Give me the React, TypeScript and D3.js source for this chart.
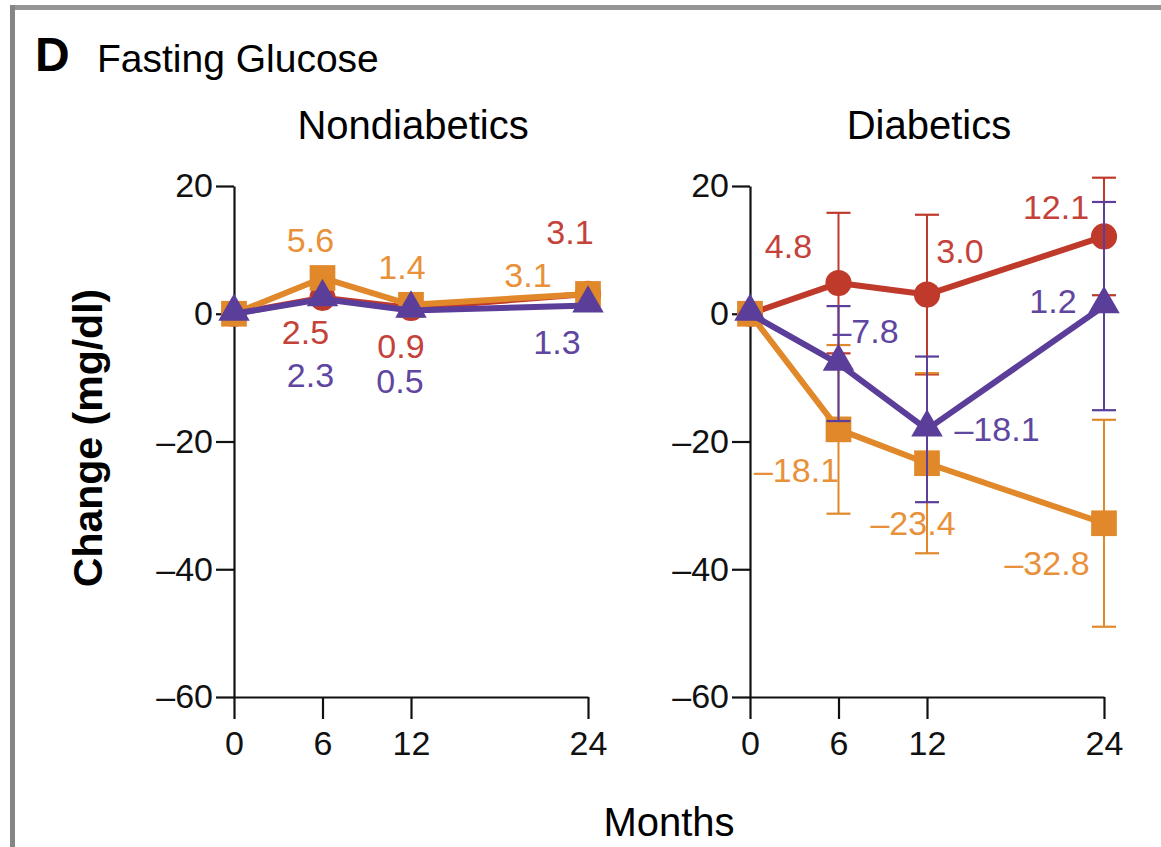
import React, { useEffect, useRef } from 'react'
import * as d3 from 'd3'

// months on the x axis
const months = [0, 6, 12, 24]
const yTicks = [20, 0, -20, -40, -60]

// Nondiabetics: change in fasting glucose (mg/dl)
const nonLowFat = [0, 2.5, 0.9, 3.1]
const nonMediterranean = [0, 5.6, 1.4, 3.1]
const nonLowCarb = [0, 2.3, 0.5, 1.3]

// Diabetics
const diaLowFat = [0, 4.8, 3.0, 12.1]
const diaMediterranean = [0, -18.1, -23.4, -32.8]
const diaLowCarb = [0, -7.8, -18.1, 1.2]

// Diabetics error bars (half width); null = none
const diaLowFatErr = [null, 11.0, 12.5, 9.2]
const diaMediterraneanErr = [null, 13.2, 14.1, 16.2]
const diaLowCarbErr = [null, 9.0, 11.4, 16.3]

const ORANGE = '#e0882a'
const RED = '#bf3a2b'
const PURPLE = '#5b3e99'
const ORANGE_TXT = '#e8913a'
const RED_TXT = '#c4423a'
const PURPLE_TXT = '#5f46a0'

const FONT = "'Liberation Sans', Arial, sans-serif"

type Off = [number, number]

interface Series {
  values: number[]
  errs?: (number | null)[]
  color: string
  textColor: string
  shape: 'circle' | 'square' | 'triangle'
  labelOff: Off[] // label centre relative to point, for months 6,12,24
}

function fmt(v: number) {
  const s = Math.abs(v).toFixed(1)
  return v < 0 ? '\u2013' + s : s
}

function App() {
  const ref = useRef<SVGSVGElement>(null)

  useEffect(() => {
    const svg = d3.select(ref.current)
    svg.selectAll('*').remove()

    // frame
    svg.append('rect').attr('x', 10).attr('y', 5).attr('width', 1151).attr('height', 5).attr('fill', '#959595')
    svg.append('rect').attr('x', 10).attr('y', 5).attr('width', 5).attr('height', 842).attr('fill', '#858585')

    svg.append('text').attr('x', 35).attr('y', 71).attr('font-family', FONT)
      .attr('font-weight', 'bold').attr('font-size', 48).text('D')
    svg.append('text').attr('x', 97).attr('y', 72).attr('font-family', FONT)
      .attr('font-size', 39).text('Fasting Glucose')

    const y = d3.scaleLinear().domain([-60, 20]).range([697, 186])

    svg.append('text')
      .attr('transform', 'translate(102,438) rotate(-90)')
      .attr('text-anchor', 'middle').attr('font-family', FONT)
      .attr('font-weight', 'bold').attr('font-size', 41).text('Change (mg/dl)')

    svg.append('text').attr('x', 669).attr('y', 836).attr('text-anchor', 'middle')
      .attr('font-family', FONT).attr('font-size', 40).text('Months')

    const panels: { title: string; x0: number; series: Series[] }[] = [
      {
        title: 'Nondiabetics',
        x0: 234,
        series: [
          { values: nonLowFat, color: RED, textColor: RED_TXT, shape: 'circle',
            labelOff: [[-17, 34], [-10, 38], [-18, -62]] },
          { values: nonMediterranean, color: ORANGE, textColor: ORANGE_TXT, shape: 'square',
            labelOff: [[-12, -38], [-9, -38], [-60, -19]] },
          { values: nonLowCarb, color: PURPLE, textColor: PURPLE_TXT, shape: 'triangle',
            labelOff: [[-12, 76], [-11, 70], [-31, 37]] },
        ],
      },
      {
        title: 'Diabetics',
        x0: 750,
        series: [
          { values: diaLowFat, errs: diaLowFatErr, color: RED, textColor: RED_TXT, shape: 'circle',
            labelOff: [[-50, -37], [33, -44], [-48, -29]] },
          { values: diaMediterranean, errs: diaMediterraneanErr, color: ORANGE, textColor: ORANGE_TXT, shape: 'square',
            labelOff: [[-42, 41], [-14, 60], [-57, 40]] },
          { values: diaLowCarb, errs: diaLowCarbErr, color: PURPLE, textColor: PURPLE_TXT, shape: 'triangle',
            labelOff: [[27, -33], [70, 0], [-51, -5]] },
        ],
      },
    ]

    panels.forEach(p => {
      const x = d3.scaleLinear().domain([0, 24]).range([p.x0, p.x0 + 354])
      const g = svg.append('g')

      g.append('text').attr('x', p.x0 + 179).attr('y', 139).attr('text-anchor', 'middle')
        .attr('font-family', FONT).attr('font-size', 40).text(p.title)

      // axes
      const yAxis = g.append('g').attr('transform', `translate(${p.x0},0)`)
        .call(d3.axisLeft(y).tickValues(yTicks).tickSize(18).tickSizeOuter(0).tickPadding(3)
          .tickFormat(d => fmt(+d).replace('.0', '')))
      const xAxis = g.append('g').attr('transform', `translate(0,${y(-60)})`)
        .call(d3.axisBottom(x).tickValues(months).tickSize(22).tickSizeOuter(0).tickPadding(12))
      ;[yAxis, xAxis].forEach(a => {
        a.selectAll('path,line').attr('stroke', '#111').attr('stroke-width', 2.2)
        a.selectAll('text').attr('font-family', FONT).attr('font-size', 34).attr('fill', '#111')
      })

      p.series.forEach(s => {
        const sg = g.append('g')
        // error bars
        if (s.errs) {
          s.errs.forEach((e, i) => {
            if (e == null) return
            const cx = x(months[i])
            const hi = y(s.values[i] + e)
            const lo = y(s.values[i] - e)
            sg.append('line').attr('x1', cx).attr('x2', cx).attr('y1', hi).attr('y2', lo)
              .attr('stroke', s.color).attr('stroke-width', 2)
            ;[hi, lo].forEach(yy => {
              sg.append('line').attr('x1', cx - 12).attr('x2', cx + 12).attr('y1', yy).attr('y2', yy)
                .attr('stroke', s.color).attr('stroke-width', 2.2)
            })
          })
        }
        const line = d3.line<number>().x((_, i) => x(months[i])).y(v => y(v))
        sg.append('path').datum(s.values).attr('d', line).attr('fill', 'none')
          .attr('stroke', s.color).attr('stroke-width', 6).attr('stroke-linejoin', 'round')

        const sym = s.shape === 'circle' ? d3.symbolCircle : s.shape === 'square' ? d3.symbolSquare : d3.symbolTriangle
        const size = s.shape === 'circle' ? 540 : s.shape === 'square' ? 660 : 430
        sg.selectAll('path.m').data(s.values).enter().append('path')
          .attr('class', 'm')
          .attr('d', d3.symbol().type(sym).size(size)())
          .attr('transform', (v, i) => `translate(${x(months[i])},${y(v) + (s.shape === 'triangle' ? -2 : 0)})`)
          .attr('fill', s.color)

        s.values.slice(1).forEach((v, k) => {
          const i = k + 1
          const [dx, dy] = s.labelOff[k]
          sg.append('text').attr('x', x(months[i]) + dx).attr('y', y(v) + dy + 12)
            .attr('text-anchor', 'middle').attr('font-family', FONT).attr('font-size', 34)
            .attr('fill', s.textColor).text(fmt(v))
        })
      })
    })
  }, [])

  return (
    <svg ref={ref} width={1161} height={847}
      style={{ position: 'absolute', left: 0, top: 0, background: '#fff' }} />
  )
}

export default App
